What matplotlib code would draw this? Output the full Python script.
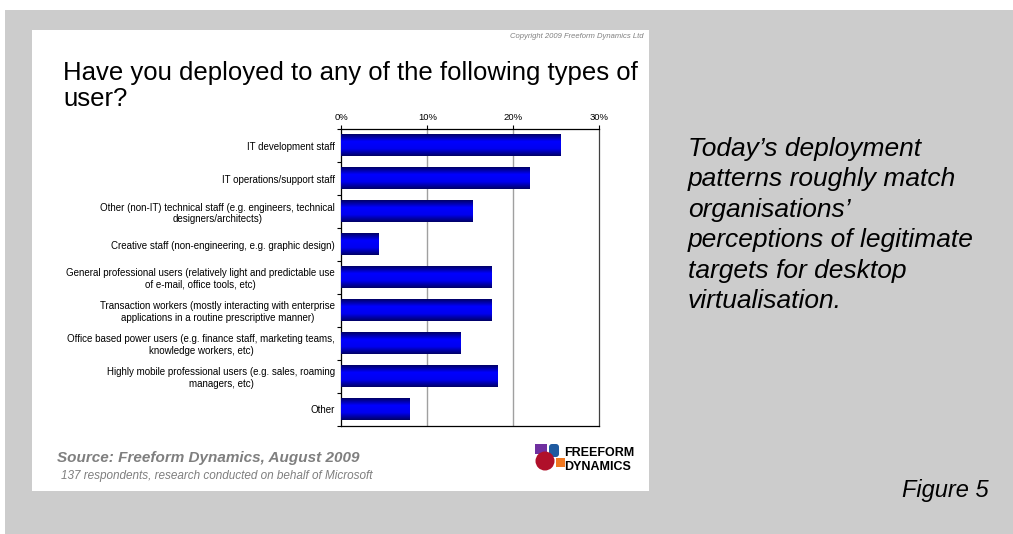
import numpy as np
import matplotlib
matplotlib.use("Agg")
import matplotlib.pyplot as plt
from matplotlib.colors import LinearSegmentedColormap
from matplotlib.patches import Rectangle, FancyBboxPatch, Circle

plt.rcParams['font.family'] = ['Liberation Sans', 'DejaVu Sans']

categories = [
    'IT development staff',
    'IT operations/support staff',
    'Other (non-IT) technical staff (e.g. engineers, technical\ndesigners/architects)',
    'Creative staff (non-engineering, e.g. graphic design)',
    'General professional users (relatively light and predictable use\nof e-mail, office tools, etc)',
    'Transaction workers (mostly interacting with enterprise\napplications in a routine prescriptive manner)',
    'Office based power users (e.g. finance staff, marketing teams,\nknowledge workers, etc)',
    'Highly mobile professional users (e.g. sales, roaming\nmanagers, etc)',
    'Other',
]
values = [25.5, 21.9, 15.3, 4.4, 17.5, 17.5, 13.9, 18.2, 8.0]
xticks = [0, 10, 20, 30]
xticklabels = ['0%', '10%', '20%', '30%']

side_text = ['Today\u2019s deployment', 'patterns roughly match', 'organisations\u2019',
             'perceptions of legitimate', 'targets for desktop', 'virtualisation.']

W, H = 1013, 534
fig = plt.figure(figsize=(W / 100, H / 100), dpi=100)
fig.patch.set_facecolor('white')

# background layer in pixel coordinates
bg = fig.add_axes([0, 0, 1, 1])
bg.set_xlim(0, W)
bg.set_ylim(H, 0)
bg.axis('off')
bg.add_patch(Rectangle((5, 10), W - 5, H - 10, color='#cccccc', lw=0))
bg.add_patch(Rectangle((32, 30), 617, 461, color='white', lw=0))

bg.text(643, 36, 'Copyright 2009 Freeform Dynamics Ltd', fontsize=5.5, style='italic',
        color='#808080', ha='right', va='center')
bg.text(63, 80, 'Have you deployed to any of the following types of', fontsize=18.5,
        ha='left', va='baseline')
bg.text(63, 106, 'user?', fontsize=18.5, ha='left', va='baseline')

bg.text(57, 462, 'Source: Freeform Dynamics, August 2009', fontsize=11, weight='bold',
        style='italic', color='#7f7f7f', ha='left', va='baseline')
bg.text(61, 479, '137 respondents, research conducted on behalf of Microsoft', fontsize=8.5,
        style='italic', color='#7f7f7f', ha='left', va='baseline')

for i, line in enumerate(side_text):
    bg.text(688, 156 + i * 30.4, line, fontsize=19, style='italic', ha='left', va='baseline')
bg.text(902, 497, 'Figure 5', fontsize=17, style='italic', ha='left', va='baseline')

# logo
bg.add_patch(Rectangle((535, 444), 12, 10, color='#7030a0', lw=0))
bg.add_patch(FancyBboxPatch((549, 444), 10, 13, boxstyle='round,pad=0,rounding_size=3',
                            color='#1f5aa0', lw=0))
bg.add_patch(Rectangle((556, 458), 9, 9, color='#f07820', lw=0))
bg.add_patch(Circle((545, 461), 9.5, color='#b0102a', lw=0))
bg.text(564, 456, 'FREEFORM', fontsize=9, weight='bold', ha='left', va='baseline')
bg.text(564, 470, 'DYNAMICS', fontsize=9, weight='bold', ha='left', va='baseline')

# chart axes
left, right, top, bottom = 341.3, 599.3, 129.3, 425.7
ax = fig.add_axes([left / W, 1 - bottom / H, (right - left) / W, (bottom - top) / H])
ax.set_facecolor('none')

cmap = LinearSegmentedColormap.from_list('bar', ['#000066', '#0000ff', '#0000f0', '#000066'])
grad = np.linspace(0, 1, 64).reshape(-1, 1)
ypos = np.arange(len(values))
bh = 0.65
for y, v in zip(ypos, values):
    ax.imshow(grad, cmap=cmap, aspect='auto', interpolation='bilinear',
              extent=[0, v, y + bh / 2, y - bh / 2], zorder=3)

ax.set_xlim(0, 30)
ax.set_ylim(len(values) - 0.5, -0.5)
ax.set_aspect('auto')

for g in [10, 20]:
    ax.axvline(g, color='#a0a0a0', lw=1, zorder=1)

ax.xaxis.tick_top()
ax.set_xticks(xticks)
ax.set_xticklabels(xticklabels, fontsize=6.8)
ax.tick_params(axis='x', direction='out', length=3, width=0.8, pad=2, color='black')

ax.set_yticks(ypos)
ax.set_yticklabels(categories, fontsize=7, ha='right', multialignment='center')
ax.set_yticks(np.arange(len(values) + 1) - 0.5, minor=True)
ax.tick_params(axis='y', which='major', length=0, pad=4.5)
ax.tick_params(axis='y', which='minor', direction='out', length=3, width=0.8)

for s in ax.spines.values():
    s.set_color('black')
    s.set_linewidth(0.9)
ax.spines['right'].set_color('#404040')

fig.savefig('out.png', dpi=100)
